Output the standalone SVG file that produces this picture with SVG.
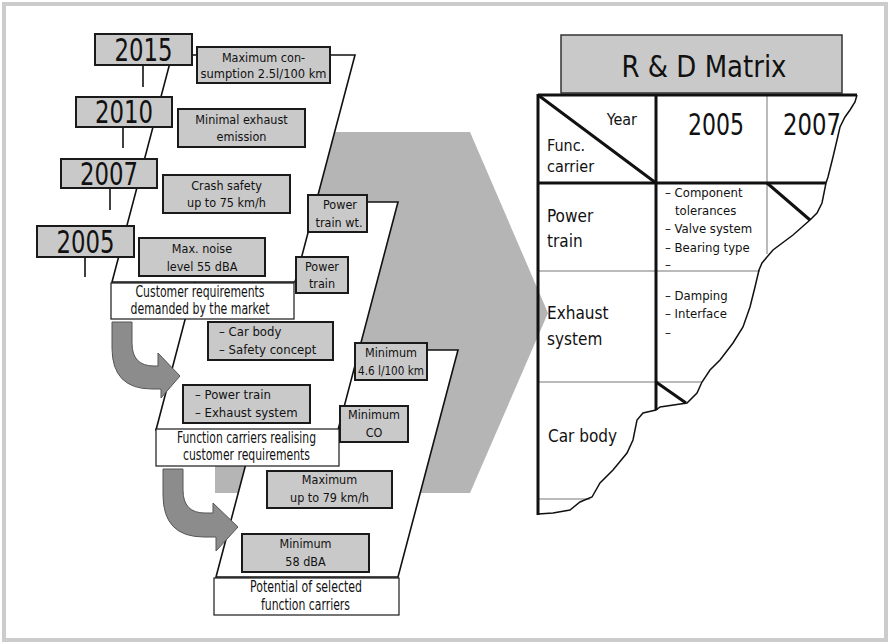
<svg xmlns="http://www.w3.org/2000/svg" width="890" height="644" viewBox="0 0 890 644">
  <style>
    text { font-family: "Liberation Sans Narrow", "DejaVu Sans Condensed", "Liberation Sans", sans-serif; fill: #111; }
    .para { fill: #fff; stroke: #111; stroke-width: 1.6; }
    .box { fill: #c9c9c9; stroke: #1a1a1a; stroke-width: 2; }
    .wbox { fill: #fff; stroke: #1a1a1a; stroke-width: 1.2; }
    .ybox { fill: #c9c9c9; stroke: #1a1a1a; stroke-width: 2; }
    .tick { stroke: #111; stroke-width: 1.6; fill: none; }
    .bt { font-size: 12.5px; text-anchor: middle; }
    .lt { font-size: 13px; }
    .wt { font-size: 15px; text-anchor: middle; }
    .yt { font-size: 32px; text-anchor: middle; }
    .turn { fill: #8c8c8c; stroke: #555; stroke-width: 1; }
    .thick { stroke: #111; stroke-width: 3; fill: none; }
    .thin { stroke: #777; stroke-width: 1; fill: none; }
    .edge { stroke: #111; stroke-width: 1.5; fill: none; }
    .hdr { font-size: 16px; }
    .row { font-size: 17px; }
    .cell { font-size: 13px; }
  </style>

  <!-- outer frame -->
  <rect x="4" y="4" width="882" height="636" fill="#fff" stroke="#cccccc" stroke-width="4"/>

  <!-- large background arrow -->
  <polygon id="chevron" points="215,132 470,132 548,313 470,493 215,493" fill="#b5b5b5"/>

  <!-- stacked planes -->
  <g id="plane-potential">
    <polygon class="para" points="276,350 458,350 398,577 216,577"/>
  </g>
  <g id="plane-carriers">
    <polygon class="para" points="216,202 398,202 338,430 156,430"/>
  </g>
  <g id="plane-market">
    <polygon class="para" points="172,55 355,55 295,282 112,282"/>
  </g>

  <!-- turn arrows between planes -->
  <g id="connectors">
    <path class="turn" d="M112,322 H132 V343 Q132,366 154,366 H158 V353 L180,376 L161,398 V389 H152 Q112,389 112,348 Z"/>
    <path class="turn" d="M163,469 H183 V490 Q183,513 205,513 H213 V503 L238,527 L216,551 V537 H204 Q163,537 163,495 Z"/>
    <!-- year ticks -->
    <line class="tick" x1="143" y1="65" x2="143" y2="87"/>
    <line class="tick" x1="123" y1="127" x2="123" y2="148"/>
    <line class="tick" x1="110" y1="188" x2="110" y2="210"/>
    <line class="tick" x1="85" y1="257" x2="85" y2="277"/>
  </g>

  <!-- year markers -->
  <g id="year-2015"><rect class="ybox" x="95" y="34" width="97" height="31"/><text class="yt" x="143.5" y="61" textLength="58" lengthAdjust="spacingAndGlyphs">2015</text></g>
  <g id="year-2010"><rect class="ybox" x="76" y="97" width="96" height="30"/><text class="yt" x="124" y="123" textLength="58" lengthAdjust="spacingAndGlyphs">2010</text></g>
  <g id="year-2007"><rect class="ybox" x="61" y="159" width="96" height="29"/><text class="yt" x="109" y="185" textLength="58" lengthAdjust="spacingAndGlyphs">2007</text></g>
  <g id="year-2005"><rect class="ybox" x="37" y="226" width="97" height="31"/><text class="yt" x="85.5" y="253" textLength="58" lengthAdjust="spacingAndGlyphs">2005</text></g>

  <!-- market requirements -->
  <g id="req-consumption"><rect class="box" x="197" y="47" width="133" height="36"/><text class="bt" x="263.5" y="62">Maximum con-</text><text class="bt" x="263.5" y="78" textLength="126" lengthAdjust="spacingAndGlyphs">sumption 2.5l/100 km</text></g>
  <g id="req-exhaust"><rect class="box" x="178" y="109" width="127" height="38"/><text class="bt" x="241.5" y="124">Minimal exhaust</text><text class="bt" x="241.5" y="141">emission</text></g>
  <g id="req-crash"><rect class="box" x="163" y="175" width="127" height="38"/><text class="bt" x="226.5" y="190">Crash safety</text><text class="bt" x="226.5" y="207">up to 75 km/h</text></g>
  <g id="req-noise"><rect class="box" x="139" y="238" width="126" height="38"/><text class="bt" x="202" y="253">Max. noise</text><text class="bt" x="202" y="271">level 55 dBA</text></g>
  <g id="label-market"><rect class="wbox" x="111" y="283" width="183" height="36"/><text class="wt" x="200" y="297" textLength="129" lengthAdjust="spacingAndGlyphs">Customer requirements</text><text class="wt" x="200" y="314" textLength="139" lengthAdjust="spacingAndGlyphs">demanded by the market</text></g>

  <!-- function carriers -->
  <g id="fc-weight"><rect class="box" x="308" y="195" width="59" height="37"/><text class="bt" x="340" y="209">Power</text><text class="bt" x="339" y="227">train wt.</text></g>
  <g id="fc-powertrain"><rect class="box" x="296" y="257" width="52" height="36"/><text class="bt" x="322" y="271">Power</text><text class="bt" x="322" y="288">train</text></g>
  <g id="fc-body"><rect class="box" x="208" y="322" width="125" height="38"/><text class="lt" x="219" y="336">– Car body</text><text class="lt" x="219" y="354">– Safety concept</text></g>
  <g id="fc-exhaust"><rect class="box" x="183" y="385" width="127" height="38"/><text class="lt" x="195" y="399">– Power train</text><text class="lt" x="195" y="417">– Exhaust system</text></g>
  <g id="label-carriers"><rect class="wbox" x="156" y="429" width="183" height="37"/><text class="wt" x="246.5" y="443" textLength="139" lengthAdjust="spacingAndGlyphs">Function carriers realising</text><text class="wt" x="246.5" y="460" textLength="127" lengthAdjust="spacingAndGlyphs">customer requirements</text></g>

  <!-- potentials -->
  <g id="pot-consumption"><rect class="box" x="355" y="343" width="72" height="37"/><text class="bt" x="391" y="357">Minimum</text><text class="bt" x="391" y="375" textLength="66" lengthAdjust="spacingAndGlyphs">4.6 l/100 km</text></g>
  <g id="pot-co"><rect class="box" x="340" y="406" width="68" height="36"/><text class="bt" x="374" y="419">Minimum</text><text class="bt" x="374" y="437">CO</text></g>
  <g id="pot-speed"><rect class="box" x="267" y="471" width="125" height="37"/><text class="bt" x="329.5" y="484">Maximum</text><text class="bt" x="329.5" y="502">up to 79 km/h</text></g>
  <g id="pot-noise"><rect class="box" x="242" y="534" width="127" height="38"/><text class="bt" x="305.5" y="548">Minimum</text><text class="bt" x="305.5" y="566">58 dBA</text></g>
  <g id="label-potential"><rect class="wbox" x="214" y="578" width="185" height="37"/><text class="wt" x="306" y="592" textLength="112" lengthAdjust="spacingAndGlyphs">Potential of selected</text><text class="wt" x="305.5" y="610" textLength="89" lengthAdjust="spacingAndGlyphs">function carriers</text></g>

  <!-- R&D matrix -->
  <g id="matrix-title"><rect x="561" y="35" width="281" height="58" fill="#c9c9c9" stroke="#333" stroke-width="1.5"/><text x="704" y="77" font-size="31" text-anchor="middle" textLength="165" lengthAdjust="spacingAndGlyphs">R &amp; D  Matrix</text></g>

  <g id="matrix">
    <!-- thin grid lines -->
    <line class="thin" x1="767" y1="95" x2="767" y2="254"/>
    <line class="thin" x1="538" y1="271" x2="760" y2="271"/>
    <line class="thin" x1="538" y1="382" x2="702" y2="382"/>
    <line class="thin" x1="538" y1="499" x2="590" y2="499"/>
    <!-- thick grid lines -->
    <line class="thick" x1="538" y1="95" x2="857" y2="95"/>
    <line class="thick" x1="538" y1="94" x2="538" y2="515"/>
    <line class="thick" x1="538" y1="183" x2="826" y2="183"/>
    <line class="thick" x1="656" y1="95" x2="656" y2="410"/>
    <line class="thick" x1="538" y1="95" x2="656" y2="183"/>
    <line class="thick" x1="767" y1="183" x2="810" y2="220"/>
    <line class="thick" x1="656" y1="382" x2="686" y2="403"/>
    <!-- torn edge -->
    <path class="edge" d="M857,95 L855,102 L850,110 L845,117 L840,127 L837,140 L833,157 L828,177 L826,183 L822,203 L817,213 L810,220 L793,235 L773,250 L767,257 L762,263 L759,270 L755,287 L750,307 L743,327 L733,343 L720,360 L710,370 L702,382 L697,393 L687,403 L660,407 L656,410 L643,413 L637,420 L633,440 L627,453 L613,470 L600,483 L592,497 L580,502 L570,510 L553,513 L538,514"/>
  </g>

  <g id="matrix-text">
    <text class="hdr" x="637" y="125" text-anchor="end">Year</text>
    <text class="hdr" x="547" y="151">Func.</text>
    <text class="hdr" x="547" y="172">carrier</text>
    <text x="716" y="135" font-size="31" text-anchor="middle" textLength="56" lengthAdjust="spacingAndGlyphs">2005</text>
    <text x="812" y="135" font-size="31" text-anchor="middle" textLength="58" lengthAdjust="spacingAndGlyphs">2007</text>
    <text class="row" x="547" y="222">Power</text>
    <text class="row" x="547" y="247">train</text>
    <text class="row" x="547" y="319">Exhaust</text>
    <text class="row" x="547" y="345">system</text>
    <text class="row" x="548" y="442">Car body</text>
    <text class="cell" x="665" y="197">– Component</text>
    <text class="cell" x="675" y="215">tolerances</text>
    <text class="cell" x="665" y="233">– Valve system</text>
    <text class="cell" x="665" y="252">– Bearing type</text>
    <text class="cell" x="665" y="269">–</text>
    <text class="cell" x="665" y="300">– Damping</text>
    <text class="cell" x="665" y="318">– Interface</text>
    <text class="cell" x="665" y="337">–</text>
  </g>
</svg>
